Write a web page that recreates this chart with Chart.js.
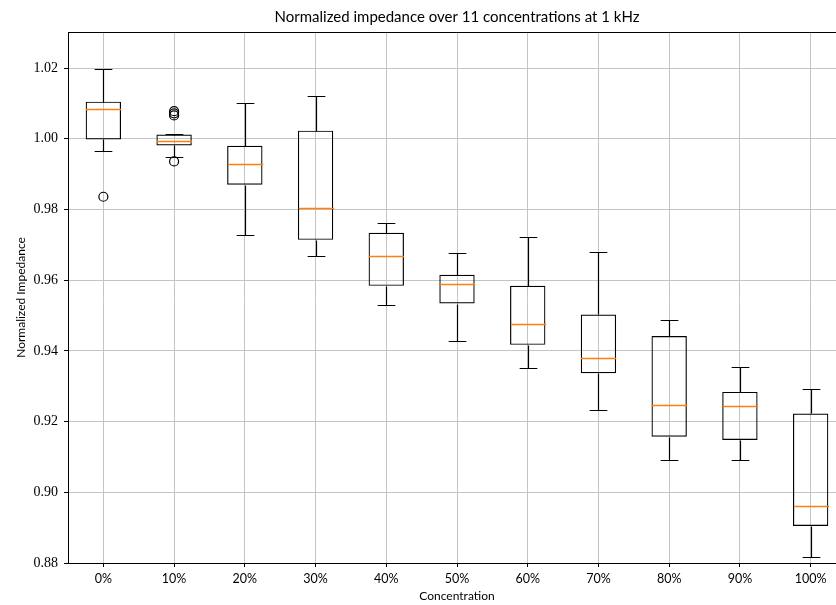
<!DOCTYPE html>
<html>
<head>
<meta charset="utf-8">
<script src="https://cdn.jsdelivr.net/npm/chart.js@4.4.1/dist/chart.umd.min.js"></script>
<style>
  html, body { margin: 0; padding: 0; background: #fff; overflow: hidden; }
  #wrap { width: 836px; height: 605px; overflow: hidden; }
  canvas { display: block; }
</style>
</head>
<body>
<div id="wrap"><canvas id="Chart-box" width="852" height="605"></canvas></div>
<script>
var concentrations = ['0%', '10%', '20%', '30%', '40%', '50%', '60%', '70%', '80%', '90%', '100%'];
var whiskerLow  = [0.9964, 0.9948, 0.9729, 0.9667, 0.9529, 0.9427, 0.9351, 0.9234, 0.9092, 0.9091, 0.8816];
var q1          = [0.9998, 0.9981, 0.9870, 0.9714, 0.9584, 0.9534, 0.9417, 0.9337, 0.9157, 0.9148, 0.8905];
var median      = [1.0083, 0.9995, 0.9930, 0.9803, 0.9667, 0.9589, 0.9476, 0.9379, 0.9248, 0.9243, 0.8962];
var q3          = [1.0105, 1.0012, 0.9980, 1.0023, 0.9734, 0.9615, 0.9584, 0.9503, 0.9442, 0.9284, 0.9223];
var whiskerHigh = [1.0196, 1.0014, 1.0100, 1.0120, 0.9761, 0.9678, 0.9722, 0.9681, 0.9486, 0.9354, 0.9292];
var flierLabels = ['0%', '10%', '10%', '10%', '10%'];
var flierValues = [0.9836, 1.0078, 1.0072, 1.0066, 0.9936];
var yTicks = [0.88, 0.90, 0.92, 0.94, 0.96, 0.98, 1.00, 1.02];

var titleText = 'Normalized impedance over 11 concentrations at 1 kHz';

// whiskers, caps, medians, frame and title
var boxExtras = {
  id: 'boxExtras',
  afterDatasetsDraw: function(chart) {
    var ctx = chart.ctx;
    var x = chart.scales.x, y = chart.scales.y;
    var area = chart.chartArea;
    var step = x.width / concentrations.length;
    var boxHalf = step * 0.25, capHalf = step * 0.125;
    var py = function(v) { return Math.round(y.getPixelForValue(v)) + 0.5; };
    ctx.save();
    concentrations.forEach(function(label, i) {
      var cx = Math.round(x.getPixelForValue(i)) + 0.5;
      ctx.strokeStyle = '#000';
      ctx.lineWidth = 1.2;
      ctx.beginPath();
      ctx.moveTo(cx, py(q1[i]));
      ctx.lineTo(cx, py(whiskerLow[i]));
      ctx.moveTo(cx, py(q3[i]));
      ctx.lineTo(cx, py(whiskerHigh[i]));
      ctx.moveTo(cx - capHalf, py(whiskerLow[i]));
      ctx.lineTo(cx + capHalf, py(whiskerLow[i]));
      ctx.moveTo(cx - capHalf, py(whiskerHigh[i]));
      ctx.lineTo(cx + capHalf, py(whiskerHigh[i]));
      ctx.stroke();
      ctx.strokeStyle = '#ff7f0e';
      ctx.lineWidth = 1.3;
      ctx.beginPath();
      ctx.moveTo(cx - boxHalf, py(median[i]));
      ctx.lineTo(cx + boxHalf, py(median[i]));
      ctx.stroke();
    });
    // frame
    ctx.strokeStyle = '#000';
    ctx.lineWidth = 1;
    ctx.strokeRect(Math.round(area.left) + 0.5, Math.round(area.top) + 0.5,
      Math.round(area.right - area.left), Math.round(area.bottom - area.top));
    // title centred over the plot area
    ctx.fillStyle = '#000';
    ctx.font = '15px Lato';
    ctx.textAlign = 'center';
    ctx.textBaseline = 'middle';
    ctx.fillText(titleText, (area.left + area.right) / 2, 17);
    ctx.restore();
  }
};

function chart_box() {
  var ctx = document.getElementById('Chart-box').getContext('2d');
  new Chart(ctx, {
    type: 'bar',
    data: {
      labels: concentrations,
      datasets: [{
          type: 'bar',
          data: q1.map(function(v, i) { return [v, q3[i]]; }),
          backgroundColor: 'rgba(0,0,0,0)',
          borderColor: '#000',
          borderWidth: 1.2,
          borderSkipped: false,
          barPercentage: 0.5,
          categoryPercentage: 1.0
        },
        {
          type: 'line',
          data: flierValues.map(function(v, i) { return {x: flierLabels[i], y: v}; }),
          showLine: false,
          pointRadius: 4.5,
          pointBorderWidth: 1.2,
          pointBorderColor: '#000',
          pointBackgroundColor: 'rgba(0,0,0,0)'
        }
      ]
    },
    options: {
      responsive: false,
      animation: false,
      layout: {
        padding: {top: 32, right: 6, left: 0, bottom: 0}
      },
      plugins: {
        legend: { display: false },
        tooltip: { enabled: false }
      },
      scales: {
        x: {
          type: 'category',
          offset: true,
          grid: {
            offset: false,
            color: '#c4c4c4',
            tickColor: '#000',
            tickLength: 4
          },
          border: { color: '#000' },
          ticks: {
            color: '#000',
            padding: 4,
            font: { family: 'Lato', size: 12.5 }
          },
          title: {
            display: true,
            text: 'Concentration',
            color: '#000',
            font: { family: 'Lato', size: 12 },
            padding: { top: 2, bottom: 2 }
          },
          afterFit: function(scale) { scale.height = 42; }
        },
        y: {
          min: 0.88,
          max: 1.0302,
          afterBuildTicks: function(scale) {
            scale.ticks = yTicks.map(function(v) { return {value: v}; });
          },
          grid: {
            color: '#c4c4c4',
            tickColor: '#000',
            tickLength: 4
          },
          border: { color: '#000' },
          ticks: {
            color: '#000',
            padding: 6,
            font: { family: 'Liberation Serif', size: 14 },
            callback: function(v) { return Number(v).toFixed(2); }
          },
          title: {
            display: true,
            text: 'Normalized Impedance',
            color: '#000',
            font: { family: 'Lato', size: 12 },
            padding: { top: 14, bottom: 0 }
          },
          afterFit: function(scale) { scale.width = 68; }
        }
      }
    },
    plugins: [boxExtras]
  });
}
chart_box();
</script>
</body>
</html>
